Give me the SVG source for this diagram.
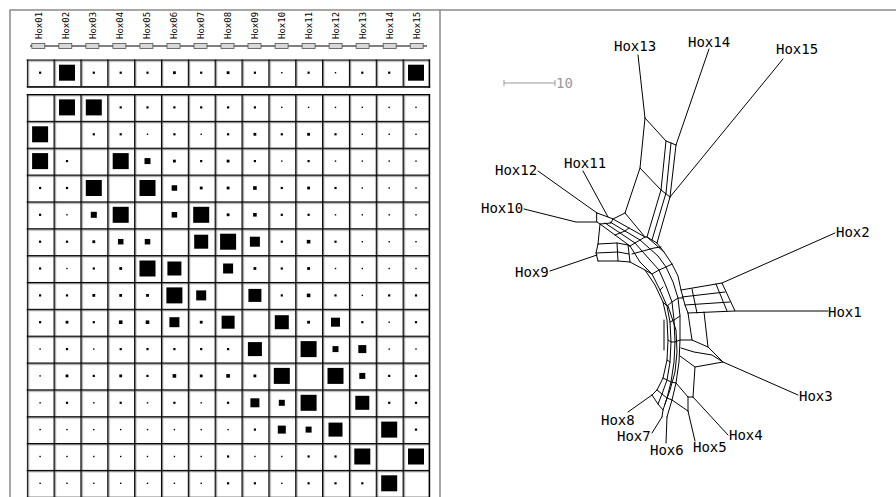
<svg xmlns="http://www.w3.org/2000/svg" xmlns:xlink="http://www.w3.org/1999/xlink" width="896" height="497" viewBox="0 0 896 497">
<style>
.frame{stroke:#8a8a8a;stroke-width:1.5;fill:none}
.lbl{font-family:"DejaVu Sans Mono","Liberation Mono",monospace;font-size:9px;fill:#000}
.chip{fill:#d8d8d8;stroke:#505050;stroke-width:0.8}
.net{fill:none;stroke:#000;stroke-width:1;stroke-linejoin:round;stroke-linecap:round}
.tx{font-family:"DejaVu Sans Mono","Liberation Mono",monospace;font-size:14px;fill:#000}
.scale{stroke:#999;stroke-width:1;fill:none}
.sq{fill:#000}
</style>
<defs>
<pattern id="cellA" patternUnits="userSpaceOnUse" x="26.7" y="94" width="26.85" height="26.85">
<rect width="26.85" height="26.85" fill="#fff"/>
<rect x="0" y="0" width="1.6" height="26.85" fill="#000"/>
<rect x="0" y="0" width="26.85" height="1.6" fill="#000"/>
<rect x="1.6" y="1.6" width="0.8" height="25.25" fill="#b8b8b8"/>
<rect x="1.6" y="1.6" width="25.25" height="0.8" fill="#b8b8b8"/>
</pattern>
<pattern id="cellB" patternUnits="userSpaceOnUse" x="26.7" y="59.3" width="26.85" height="26.85">
<rect width="26.85" height="26.85" fill="#fff"/>
<rect x="0" y="0" width="1.6" height="26.85" fill="#000"/>
<rect x="0" y="0" width="26.85" height="1.6" fill="#000"/>
<rect x="1.6" y="1.6" width="0.8" height="25.25" fill="#b8b8b8"/>
<rect x="1.6" y="1.6" width="25.25" height="0.8" fill="#b8b8b8"/>
</pattern>
<rect id="q1" class="sq" x="-0.7" y="-0.7" width="1.4" height="1.4"/>
<rect id="q2" class="sq" x="-1.1" y="-1.1" width="2.2" height="2.2"/>
<rect id="q3" class="sq" x="-1.4" y="-1.4" width="2.8" height="2.8"/>
<rect id="q4" class="sq" x="-1.8" y="-1.8" width="3.6" height="3.6"/>
<rect id="q5" class="sq" x="-2.75" y="-2.75" width="5.5" height="5.5"/>
<rect id="q6" class="sq" x="-3" y="-3" width="6" height="6"/>
<rect id="q8" class="sq" x="-4" y="-4" width="8" height="8"/>
<rect id="q9" class="sq" x="-4.5" y="-4.5" width="9" height="9"/>
<rect id="q10" class="sq" x="-5" y="-5" width="10" height="10"/>
<rect id="q13" class="sq" x="-6.5" y="-6.5" width="13" height="13"/>
<rect id="q14" class="sq" x="-7" y="-7" width="14" height="14"/>
<rect id="q16" class="sq" x="-8" y="-8" width="16" height="16"/>
<rect id="chip" class="chip" x="-6.5" y="-2.5" width="13" height="5"/>
</defs>
<rect width="896" height="497" fill="#fff"/>
<path class="frame" d="M10,497 V10 H896 M440,10 V497"/>

<g id="header">
<line x1="30" y1="46" x2="427" y2="46" stroke="#000" stroke-width="1"/>
<use href="#chip" x="38.3" y="46"/><use href="#chip" x="65.3" y="46"/><use href="#chip" x="92.4" y="46"/><use href="#chip" x="119.4" y="46"/><use href="#chip" x="146.4" y="46"/><use href="#chip" x="173.5" y="46"/><use href="#chip" x="200.5" y="46"/><use href="#chip" x="227.5" y="46"/><use href="#chip" x="254.5" y="46"/><use href="#chip" x="281.6" y="46"/><use href="#chip" x="308.6" y="46"/><use href="#chip" x="335.6" y="46"/><use href="#chip" x="362.6" y="46"/><use href="#chip" x="389.7" y="46"/><use href="#chip" x="416.7" y="46"/>
<text class="lbl" transform="translate(41.6,39) rotate(-90)">Hox01</text>
<text class="lbl" transform="translate(68.6,39) rotate(-90)">Hox02</text>
<text class="lbl" transform="translate(95.7,39) rotate(-90)">Hox03</text>
<text class="lbl" transform="translate(122.7,39) rotate(-90)">Hox04</text>
<text class="lbl" transform="translate(149.7,39) rotate(-90)">Hox05</text>
<text class="lbl" transform="translate(176.8,39) rotate(-90)">Hox06</text>
<text class="lbl" transform="translate(203.8,39) rotate(-90)">Hox07</text>
<text class="lbl" transform="translate(230.8,39) rotate(-90)">Hox08</text>
<text class="lbl" transform="translate(257.8,39) rotate(-90)">Hox09</text>
<text class="lbl" transform="translate(284.9,39) rotate(-90)">Hox10</text>
<text class="lbl" transform="translate(311.9,39) rotate(-90)">Hox11</text>
<text class="lbl" transform="translate(338.9,39) rotate(-90)">Hox12</text>
<text class="lbl" transform="translate(365.9,39) rotate(-90)">Hox13</text>
<text class="lbl" transform="translate(393,39) rotate(-90)">Hox14</text>
<text class="lbl" transform="translate(420,39) rotate(-90)">Hox15</text>
</g>

<g id="toprow">
<rect x="26.7" y="59.3" width="402.75" height="26.85" fill="url(#cellB)"/>
<rect x="428.6" y="59.3" width="1.6" height="28.45" fill="#000"/>
<rect x="26.7" y="86.15" width="403.5" height="1.6" fill="#000"/>
<g transform="translate(0,72.7)">
<use href="#q2" x="40.1"/><use href="#q16" x="67"/><use href="#q2" x="93.8"/><use href="#q2" x="120.7"/><use href="#q2" x="147.5"/><use href="#q3" x="174.4"/><use href="#q2" x="201.2"/><use href="#q3" x="228.1"/><use href="#q2" x="254.9"/><use href="#q1" x="281.8"/><use href="#q2" x="308.6"/><use href="#q1" x="335.5"/><use href="#q2" x="362.3"/><use href="#q2" x="389.2"/><use href="#q16" x="416"/>
</g>
</g>

<g id="matrix">
<rect x="26.7" y="94" width="402.75" height="403" fill="url(#cellA)"/>
<rect x="428.6" y="94" width="1.6" height="403" fill="#000"/>
<g transform="translate(0,107.4)">
<use href="#q16" x="67"/><use href="#q16" x="93.8"/><use href="#q2" x="120.7"/><use href="#q2" x="147.5"/><use href="#q2" x="174.4"/><use href="#q2" x="201.2"/><use href="#q2" x="228.1"/><use href="#q2" x="254.9"/><use href="#q1" x="281.8"/><use href="#q1" x="308.6"/><use href="#q1" x="335.5"/><use href="#q1" x="362.3"/><use href="#q1" x="389.2"/><use href="#q1" x="416"/>
</g>
<g transform="translate(0,134.3)">
<use href="#q16" x="40.1"/><use href="#q2" x="93.8"/><use href="#q2" x="120.7"/><use href="#q1" x="147.5"/><use href="#q2" x="174.4"/><use href="#q1" x="201.2"/><use href="#q2" x="228.1"/><use href="#q3" x="254.9"/><use href="#q2" x="281.8"/><use href="#q3" x="308.6"/><use href="#q2" x="335.5"/><use href="#q1" x="362.3"/><use href="#q1" x="389.2"/><use href="#q1" x="416"/>
</g>
<g transform="translate(0,161.1)">
<use href="#q16" x="40.1"/><use href="#q2" x="67"/><use href="#q16" x="120.7"/><use href="#q6" x="147.5"/><use href="#q3" x="174.4"/><use href="#q2" x="201.2"/><use href="#q3" x="228.1"/><use href="#q2" x="254.9"/><use href="#q1" x="281.8"/><use href="#q2" x="308.6"/><use href="#q1" x="335.5"/><use href="#q1" x="362.3"/><use href="#q1" x="389.2"/><use href="#q1" x="416"/>
</g>
<g transform="translate(0,188)">
<use href="#q2" x="40.1"/><use href="#q2" x="67"/><use href="#q16" x="93.8"/><use href="#q16" x="147.5"/><use href="#q5" x="174.4"/><use href="#q3" x="201.2"/><use href="#q3" x="228.1"/><use href="#q4" x="254.9"/><use href="#q2" x="281.8"/><use href="#q3" x="308.6"/><use href="#q2" x="335.5"/><use href="#q1" x="362.3"/><use href="#q1" x="389.2"/><use href="#q1" x="416"/>
</g>
<g transform="translate(0,214.8)">
<use href="#q2" x="40.1"/><use href="#q1" x="67"/><use href="#q6" x="93.8"/><use href="#q16" x="120.7"/><use href="#q5" x="174.4"/><use href="#q16" x="201.2"/><use href="#q3" x="228.1"/><use href="#q4" x="254.9"/><use href="#q2" x="281.8"/><use href="#q2" x="308.6"/><use href="#q1" x="335.5"/><use href="#q1" x="362.3"/><use href="#q1" x="389.2"/><use href="#q1" x="416"/>
</g>
<g transform="translate(0,241.7)">
<use href="#q2" x="40.1"/><use href="#q2" x="67"/><use href="#q3" x="93.8"/><use href="#q5" x="120.7"/><use href="#q5" x="147.5"/><use href="#q14" x="201.2"/><use href="#q16" x="228.1"/><use href="#q10" x="254.9"/><use href="#q2" x="281.8"/><use href="#q4" x="308.6"/><use href="#q2" x="335.5"/><use href="#q1" x="362.3"/><use href="#q1" x="389.2"/><use href="#q1" x="416"/>
</g>
<g transform="translate(0,268.5)">
<use href="#q2" x="40.1"/><use href="#q1" x="67"/><use href="#q2" x="93.8"/><use href="#q3" x="120.7"/><use href="#q16" x="147.5"/><use href="#q14" x="174.4"/><use href="#q10" x="228.1"/><use href="#q3" x="254.9"/><use href="#q2" x="281.8"/><use href="#q3" x="308.6"/><use href="#q1" x="335.5"/><use href="#q1" x="362.3"/><use href="#q1" x="389.2"/><use href="#q1" x="416"/>
</g>
<g transform="translate(0,295.4)">
<use href="#q2" x="40.1"/><use href="#q2" x="67"/><use href="#q3" x="93.8"/><use href="#q3" x="120.7"/><use href="#q3" x="147.5"/><use href="#q16" x="174.4"/><use href="#q10" x="201.2"/><use href="#q13" x="254.9"/><use href="#q2" x="281.8"/><use href="#q4" x="308.6"/><use href="#q2" x="335.5"/><use href="#q1" x="362.3"/><use href="#q2" x="389.2"/><use href="#q2" x="416"/>
</g>
<g transform="translate(0,322.2)">
<use href="#q2" x="40.1"/><use href="#q3" x="67"/><use href="#q2" x="93.8"/><use href="#q4" x="120.7"/><use href="#q4" x="147.5"/><use href="#q10" x="174.4"/><use href="#q3" x="201.2"/><use href="#q13" x="228.1"/><use href="#q14" x="281.8"/><use href="#q3" x="308.6"/><use href="#q9" x="335.5"/><use href="#q2" x="362.3"/><use href="#q1" x="389.2"/><use href="#q2" x="416"/>
</g>
<g transform="translate(0,349.1)">
<use href="#q1" x="40.1"/><use href="#q2" x="67"/><use href="#q1" x="93.8"/><use href="#q2" x="120.7"/><use href="#q2" x="147.5"/><use href="#q2" x="174.4"/><use href="#q2" x="201.2"/><use href="#q2" x="228.1"/><use href="#q14" x="254.9"/><use href="#q16" x="308.6"/><use href="#q6" x="335.5"/><use href="#q8" x="362.3"/><use href="#q1" x="389.2"/><use href="#q1" x="416"/>
</g>
<g transform="translate(0,375.9)">
<use href="#q1" x="40.1"/><use href="#q3" x="67"/><use href="#q2" x="93.8"/><use href="#q3" x="120.7"/><use href="#q2" x="147.5"/><use href="#q4" x="174.4"/><use href="#q3" x="201.2"/><use href="#q4" x="228.1"/><use href="#q3" x="254.9"/><use href="#q16" x="281.8"/><use href="#q16" x="335.5"/><use href="#q6" x="362.3"/><use href="#q2" x="389.2"/><use href="#q2" x="416"/>
</g>
<g transform="translate(0,402.8)">
<use href="#q1" x="40.1"/><use href="#q2" x="67"/><use href="#q1" x="93.8"/><use href="#q2" x="120.7"/><use href="#q1" x="147.5"/><use href="#q2" x="174.4"/><use href="#q1" x="201.2"/><use href="#q2" x="228.1"/><use href="#q9" x="254.9"/><use href="#q6" x="281.8"/><use href="#q16" x="308.6"/><use href="#q14" x="362.3"/><use href="#q2" x="389.2"/><use href="#q2" x="416"/>
</g>
<g transform="translate(0,429.6)">
<use href="#q1" x="40.1"/><use href="#q1" x="67"/><use href="#q1" x="93.8"/><use href="#q1" x="120.7"/><use href="#q1" x="147.5"/><use href="#q1" x="174.4"/><use href="#q1" x="201.2"/><use href="#q1" x="228.1"/><use href="#q2" x="254.9"/><use href="#q8" x="281.8"/><use href="#q6" x="308.6"/><use href="#q14" x="335.5"/><use href="#q16" x="389.2"/><use href="#q2" x="416"/>
</g>
<g transform="translate(0,456.5)">
<use href="#q1" x="40.1"/><use href="#q1" x="67"/><use href="#q1" x="93.8"/><use href="#q1" x="120.7"/><use href="#q1" x="147.5"/><use href="#q1" x="174.4"/><use href="#q1" x="201.2"/><use href="#q2" x="228.1"/><use href="#q1" x="254.9"/><use href="#q1" x="281.8"/><use href="#q2" x="308.6"/><use href="#q2" x="335.5"/><use href="#q16" x="362.3"/><use href="#q16" x="416"/>
</g>
<g transform="translate(0,483.3)">
<use href="#q1" x="40.1"/><use href="#q1" x="67"/><use href="#q1" x="93.8"/><use href="#q1" x="120.7"/><use href="#q1" x="147.5"/><use href="#q1" x="174.4"/><use href="#q1" x="201.2"/><use href="#q2" x="228.1"/><use href="#q2" x="254.9"/><use href="#q1" x="281.8"/><use href="#q2" x="308.6"/><use href="#q2" x="335.5"/><use href="#q2" x="362.3"/><use href="#q16" x="389.2"/>
</g>
</g>

<g id="scalebar">
<path class="scale" d="M504,83 H555 M504,80 V86 M555,80 V86"/>
<text class="tx" x="556" y="88" style="fill:#999">10</text>
</g>

<g id="connectors" class="net">
<path d="M638,55 L645,118"/>
<path d="M709,49 L676,145"/>
<path d="M783,59 L670,197"/>
<path d="M538,171 L597,213"/>
<path d="M583,171 L608,217"/>
<path d="M524,209 L576,222 L597,222"/>
<path d="M550,271 L597,255"/>
<path d="M835,233 L722,283"/>
<path d="M828,311 L735,311"/>
<path d="M798,395 L723,362"/>
<path d="M728,435 L693,397"/>
<path d="M695,441 L688,411"/>
<path d="M666,443 L667,417"/>
<path d="M652,433 L662,417"/>
<path d="M628,412 L652,395"/>
<path d="M645,118 L666,141 L676,145 M645,118 L640,168 L661,190 L670,197 M666,141 L661,190 M671,143 L666,193 M676,145 L670,197"/>
<path d="M640,168 L625,213 L645,237 M661,190 L647,237 M666,193 L652,240 M670,197 L657,243"/>
<path d="M597,213 L608,217 L613,219 L611,223 L600,224 L597,222 Z M613,219 L625,213"/>
<path d="M600,224 L630,246 M605,223 L635,243 M610,222 L640,240 M613,219 L645,237 M615,235 L620,233 L625,231 L629,228"/>
<path d="M630,246 L635,243 L640,240 L645,237 L647,237 L652,240 L657,243"/>
<path d="M600,224 L598,244"/>
<path d="M598,244 L617,243 L628,245 L630,246 M596,253 L618,252 L629,254 M598,261 L618,261 L630,262 M598,244 L596,253 L598,261 M617,243 L618,261 M628,245 L630,262"/>
<path d="M630,246 L640,262 M635,243 L650,260 M640,240 L658,256 M647,237 L664,252 M657,243 L664,252 M632,254 L643,251 L654,248 L661,247"/>
<path d="M630,262 L645,270 L655,285 L663,302 L667,320 L668,340 L667,360 L663,378 L657,390 L652,395"/>
<path d="M640,262 L652,274 L660,290 L667,306 L670,322 L671,342 L670,362 L667,380 L662,394 L658,404"/>
<path d="M650,260 L659,270 L666,286 L672,302 L674,320 L675,342 L674,362 L671,382 L667,398 L663,410 L662,417"/>
<path d="M658,256 L666,267 L673,282 L678,298 L680,316 L680,340 L679,362 L676,383 L672,400 L669,410 L667,417"/>
<path d="M664,252 L672,264 L678,276 L681,290 L685,305 L688,313"/>
<path d="M660,290 L663,287 M668,306 L676,330 L677,352 L675,372 L670,390 L665,404 M664,320 L664,350"/>
<path d="M645,270 L652,274 L659,270 L666,267 L672,264 M663,302 L667,306 L672,302 L678,298 L683,298 M670,322 L674,320 L680,316 M668,340 L671,342 L675,342 L680,340 L692,340 M667,360 L670,362 M663,378 L667,380 L671,382 L676,383"/>
<path d="M681,290 L722,283 L735,311 L688,313 M682,297 L725,292 M685,305 L730,302 M692,289 L697,313 M716,284 L727,311"/>
<path d="M688,313 L692,340 L708,347 L723,362 L695,367 L680,356 M704,312 L708,347 M681,348 L694,352 L712,355 L723,362 M695,367 L693,397"/>
<path d="M676,383 L688,397 L693,397 M688,397 L688,411 M672,400 L688,411"/>
<path d="M652,395 L658,404 L663,410 M657,390 L662,394 L667,398 L672,400"/>
</g>

<g id="Hox13"><text class="tx" x="614" y="51">Hox13</text></g>
<g id="Hox14"><text class="tx" x="688" y="46.5">Hox14</text></g>
<g id="Hox15"><text class="tx" x="776" y="54">Hox15</text></g>
<g id="Hox12"><text class="tx" x="495" y="175">Hox12</text></g>
<g id="Hox11"><text class="tx" x="564" y="167.5">Hox11</text></g>
<g id="Hox10"><text class="tx" x="481" y="213">Hox10</text></g>
<g id="Hox9"><text class="tx" x="515" y="277">Hox9</text></g>
<g id="Hox2"><text class="tx" x="836" y="237">Hox2</text></g>
<g id="Hox1"><text class="tx" x="828" y="317">Hox1</text></g>
<g id="Hox3"><text class="tx" x="799" y="400.5">Hox3</text></g>
<g id="Hox4"><text class="tx" x="729" y="440">Hox4</text></g>
<g id="Hox5"><text class="tx" x="693" y="451.5">Hox5</text></g>
<g id="Hox6"><text class="tx" x="650" y="455">Hox6</text></g>
<g id="Hox7"><text class="tx" x="617" y="441">Hox7</text></g>
<g id="Hox8"><text class="tx" x="601" y="425">Hox8</text></g>
</svg>
